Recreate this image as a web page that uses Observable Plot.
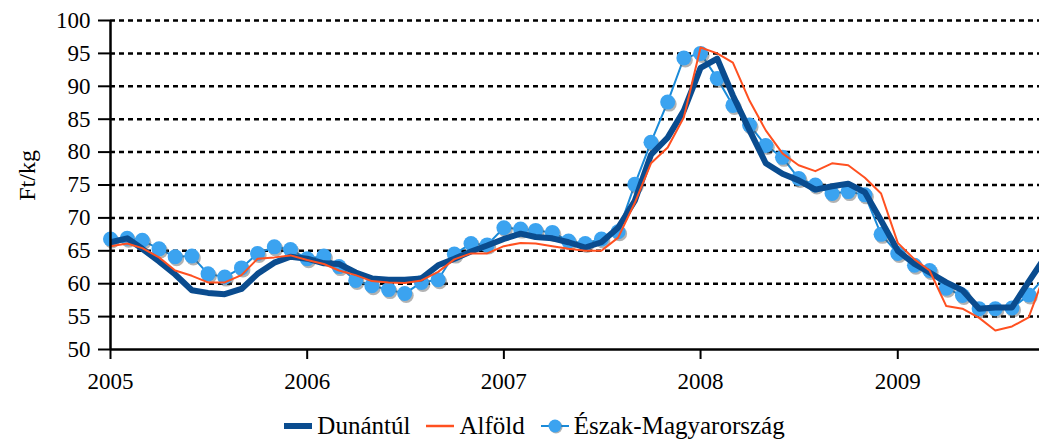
<!DOCTYPE html>
<html><head><meta charset="utf-8">
<script src="https://cdn.jsdelivr.net/npm/d3@7"></script>
<script src="https://cdn.jsdelivr.net/npm/@observablehq/plot@0.6"></script>
<style>
body{margin:0;background:#fff;font-family:"Liberation Serif","DejaVu Serif","Times New Roman",Times,serif;overflow:hidden;}
#chart svg, #chart svg text{font-family:"Liberation Serif","DejaVu Serif","Times New Roman",Times,serif !important;}
#legend{height:44px;display:flex;justify-content:center;align-items:center;padding-left:28px;padding-top:8px;box-sizing:border-box;font-size:25px;color:#000;}
.item{display:flex;align-items:center;margin:0 7px;}
.item svg{margin-right:3px;}
</style></head><body>
<div id="chart"></div><div id="legend"></div>
<script>
const seriesNames = ["Dunántúl", "Alföld", "Észak-Magyarország"];
const seriesColors = ["#0a4c8f", "#ff5020", "#3ba3f0"];
const eszakLineColor = "#1a8ad8";

// monthly prices, Jan 2005 .. Oct 2009 (Ft/kg)
const dunantul = [66.3,66.9,65.3,63.4,61.4,59.0,58.6,58.4,59.2,61.5,63.2,64.1,
  63.8,63.1,63.0,61.7,60.8,60.6,60.6,60.8,62.8,63.8,64.9,65.8,
  66.8,67.6,67.1,66.9,66.3,65.5,66.3,68.5,72.6,79.6,82.2,86.3,
  92.8,94.2,88.6,83.3,78.3,76.7,75.7,74.3,74.8,75.2,73.9,69.6,
  65.0,63.0,61.7,60.2,59.0,56.2,56.4,56.4,60.3,64.0];
const alfold = [65.7,66.1,65.4,64.0,62.0,61.2,60.2,60.2,61.3,63.8,64.0,64.3,
  63.6,63.0,62.0,61.3,60.4,60.2,60.1,60.5,61.8,63.7,64.6,64.6,
  65.7,66.2,66.1,65.7,65.3,65.0,65.0,67.0,72.3,78.3,80.7,85.3,
  95.9,95.0,93.6,87.8,83.3,79.8,78.0,77.1,78.3,78.0,76.1,73.7,
  66.2,63.7,62.0,56.6,56.2,54.8,52.9,53.5,54.9,61.5];
const eszak = [66.8,66.9,66.6,65.3,64.1,64.2,61.5,61.0,62.4,64.6,65.6,65.2,
  63.8,64.2,62.6,60.5,59.7,59.1,58.5,60.2,60.6,64.5,66.1,65.9,
  68.5,68.3,68.1,67.8,66.5,66.1,66.8,67.9,75.1,81.5,87.6,94.3,
  95.0,91.2,87.1,84.1,81.0,79.2,76.0,75.0,73.7,74.0,73.5,67.5,
  64.6,62.8,62.0,59.3,58.2,56.2,56.2,56.3,58.3,61.0];

const yTicks = [50,55,60,65,70,75,80,85,90,95,100];
const gridValues = [55,60,65,70,75,80,85,90,95,100];
const xTickYears = [2005,2006,2007,2008,2009];
const yLabel = "Ft/kg";
const yLabelValue = 72.6;

const months = d3.utcMonth.range(new Date(Date.UTC(2005,0,1)), new Date(Date.UTC(2009,9,2)));
const xEnd = new Date(Date.UTC(2009,8,21));

const rows = (vals) => vals.map((v, i) => ({date: months[i], value: v}));
const dData = rows(dunantul), aData = rows(alfold), eData = rows(eszak);
const eDots = eData.filter(d => d.date <= xEnd);

const plot = Plot.plot({
  width: 1039,
  height: 400,
  marginLeft: 110,
  marginRight: 0,
  marginTop: 20,
  marginBottom: 51,
  style: {fontSize: "23px", color: "#000", background: "#fff"},
  x: {type: "utc", domain: [new Date(Date.UTC(2005,0,1)), xEnd]},
  y: {domain: [50, 100]},
  marks: [
    Plot.ruleY(gridValues, {stroke: "#000", strokeWidth: 2.5, strokeDasharray: "5,4"}),
    Plot.line(eData, {x: "date", y: "value", stroke: eszakLineColor, strokeWidth: 2, clip: true}),
    Plot.dot(eDots, {x: "date", y: "value", r: 7.5, fill: "#555", fillOpacity: 0.45, dx: 1.5, dy: 2}),
    Plot.dot(eDots, {x: "date", y: "value", r: 7.5, fill: seriesColors[2]}),
    Plot.line(dData, {x: "date", y: "value", stroke: seriesColors[0], strokeWidth: 6, clip: true}),
    Plot.line(aData, {x: "date", y: "value", stroke: seriesColors[1], strokeWidth: 2, clip: true}),
    Plot.axisY({ticks: yTicks, tickSize: 12, tickPadding: 8, label: null, fontSize: 23, strokeWidth: 2}),
    Plot.axisX({ticks: xTickYears.map(y => new Date(Date.UTC(y,0,1))), tickFormat: d3.utcFormat("%Y"), tickSize: 10, tickPadding: 13, label: null, fontSize: 23, strokeWidth: 2}),
    Plot.ruleY([50], {stroke: "#000", strokeWidth: 2.5}),
    Plot.ruleX([new Date(Date.UTC(2005,0,1))], {stroke: "#000", strokeWidth: 2.5}),
    Plot.text([yLabel], {y: () => yLabelValue, frameAnchor: "left", dx: -83, rotate: -90, fontSize: 24, fill: "#000"})
  ]
});
document.getElementById("chart").appendChild(plot);

const legend = document.getElementById("legend");
const swatches = [
  `<svg width="32" height="20"><line x1="2" x2="30" y1="10" y2="10" stroke="${seriesColors[0]}" stroke-width="6"/></svg>`,
  `<svg width="32" height="20"><line x1="2" x2="30" y1="10" y2="10" stroke="${seriesColors[1]}" stroke-width="2.5"/></svg>`,
  `<svg width="32" height="20"><line x1="2" x2="30" y1="10" y2="10" stroke="${eszakLineColor}" stroke-width="2"/><circle cx="17" cy="11" r="6.5" fill="#555" fill-opacity="0.45"/><circle cx="16" cy="10" r="6.5" fill="${seriesColors[2]}"/></svg>`
];
seriesNames.forEach((name, i) => {
  const item = document.createElement("div");
  item.className = "item";
  item.innerHTML = swatches[i] + `<span>${name}</span>`;
  legend.appendChild(item);
});
</script>
</body></html>
